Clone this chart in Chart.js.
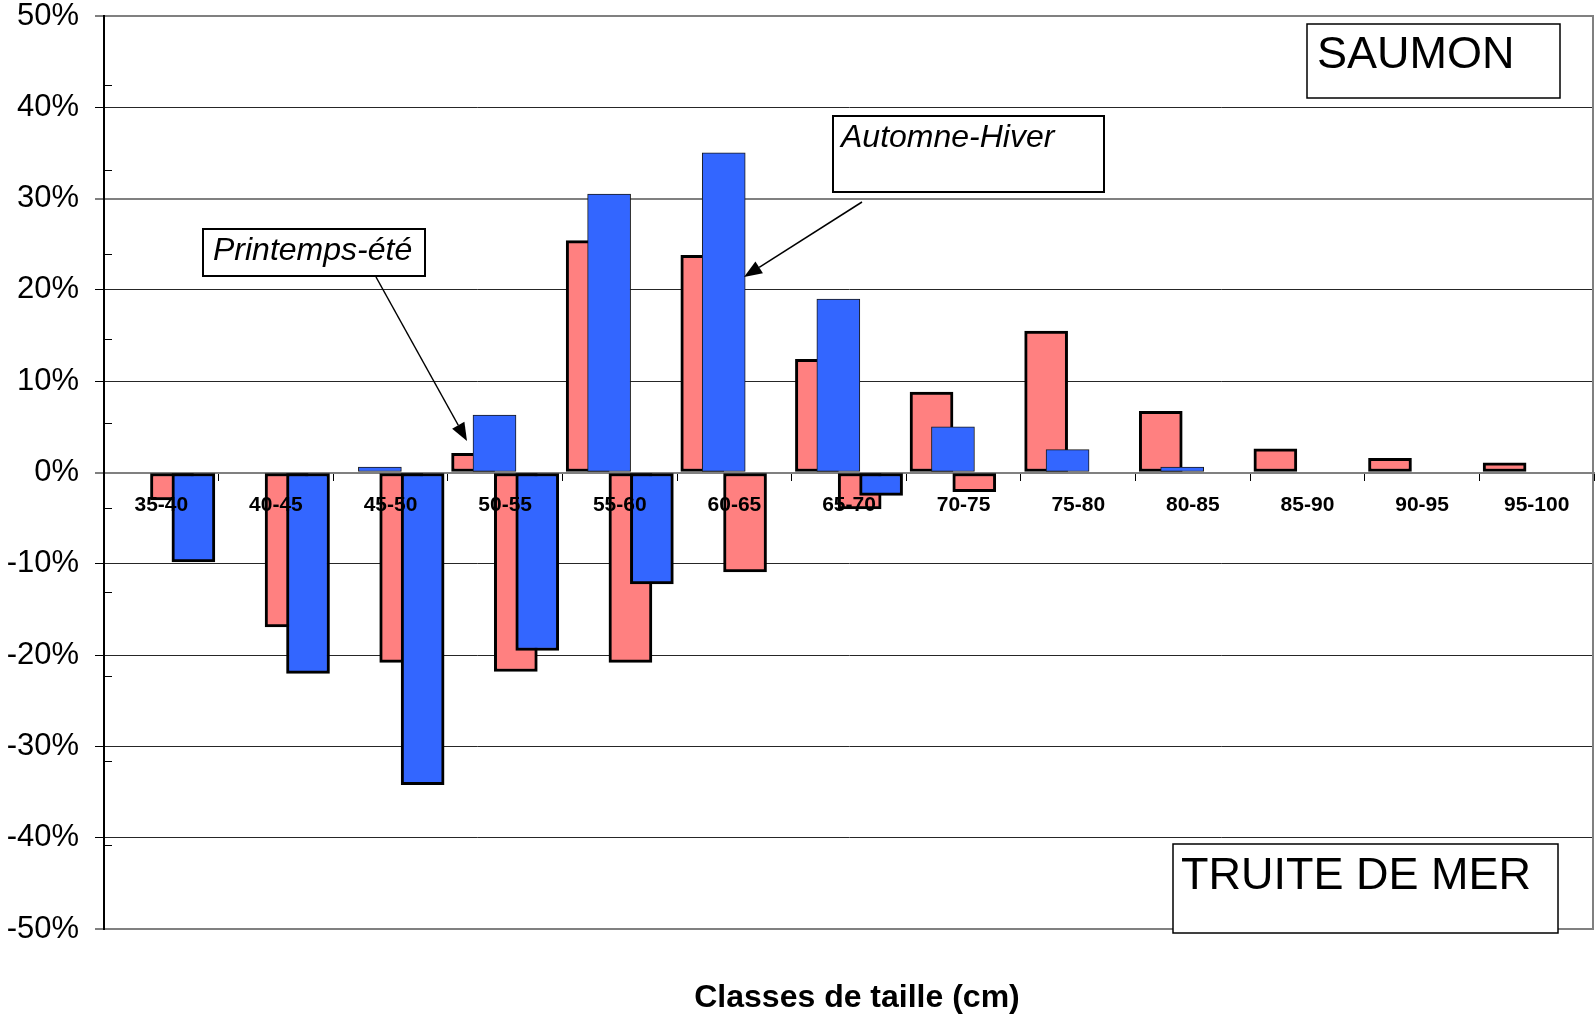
<!DOCTYPE html>
<html lang="fr">
<head>
  <meta charset="UTF-8">
  <title>Classes de taille - Saumon / Truite de mer</title>
  <script src="https://cdn.jsdelivr.net/npm/chart.js"></script>
  <style>
    body { margin: 0; background: #fff; }
    #wrap { width: 1596px; height: 1015px; position: relative; }
  </style>
</head>
<body>
<div id="wrap"><canvas id="tailleChart"></canvas></div>
<script>
// classes de taille (cm)
const classes = ['35-40', '40-45', '45-50', '50-55', '55-60', '60-65', '65-70',
                 '70-75', '75-80', '80-85', '85-90', '90-95', '95-100'];

// saumon (partie haute, en %)
const saumonPrintemps = [null, null, null, 2.1, 25.4, 23.8, 12.4, 8.8, 15.5, 6.7, 2.6, 1.55, 1.05];
const saumonAutomne   = [null, null, 0.6, 6.3, 30.5, 35.0, 19.0, 5.0, 2.5, 0.6, null, null, null];

// truite de mer (partie basse, en % négatif)
const truitePrintemps = [-3.0, -16.9, -20.8, -21.8, -20.8, -10.9, -4.0, -2.1, null, null, null, null, null];
const truiteAutomne   = [-9.8, -22.0, -34.2, -19.5, -12.2, null, -2.5, null, null, null, null, null, null];

const police = 'Arial, "Liberation Sans", sans-serif';

// les 4 barres d'une classe se chevauchent de moitié : on les place sur un axe linéaire caché
function points(vals, decalage) {
  const pts = [];
  vals.forEach((v, i) => { if (v !== null) pts.push({ x: i + decalage, y: v }); });
  return pts;
}

function barres(label, vals, decalage, couleur, bord, epaisseur, ordre) {
  return {
    label: label,
    data: points(vals, decalage),
    xAxisID: 'xb',
    grouped: false,
    barThickness: 43,
    backgroundColor: couleur,
    borderColor: bord,
    borderWidth: epaisseur,
    borderSkipped: false,
    order: ordre // plus petit = dessiné au-dessus
  };
}

// cadres de texte + flèches + titre de l'axe
function boite(ctx, x, y, w, h, lw) {
  ctx.fillStyle = '#fff';
  ctx.fillRect(x, y, w, h);
  ctx.lineWidth = lw;
  ctx.strokeStyle = '#000';
  ctx.strokeRect(x, y, w, h);
}

function fleche(ctx, x1, y1, x2, y2) {
  const a = Math.atan2(y2 - y1, x2 - x1);
  const L = 18, W = 7;
  const bx = x2 - L * Math.cos(a), by = y2 - L * Math.sin(a);
  ctx.strokeStyle = '#000';
  ctx.lineWidth = 1.5;
  ctx.beginPath();
  ctx.moveTo(x1, y1);
  ctx.lineTo(bx, by);
  ctx.stroke();
  ctx.fillStyle = '#000';
  ctx.beginPath();
  ctx.moveTo(x2, y2);
  ctx.lineTo(bx + W * Math.sin(a), by - W * Math.cos(a));
  ctx.lineTo(bx - W * Math.sin(a), by + W * Math.cos(a));
  ctx.closePath();
  ctx.fill();
}

const decor = {
  id: 'decor',
  afterDraw(chart) {
    const ctx = chart.ctx;
    const ca = chart.chartArea;
    ctx.save();

    // bord droit gris
    ctx.strokeStyle = '#808080';
    ctx.lineWidth = 2;
    ctx.beginPath();
    ctx.moveTo(ca.right - 1, ca.top);
    ctx.lineTo(ca.right - 1, ca.bottom);
    ctx.stroke();

    // petites graduations à droite de l'axe vertical
    ctx.strokeStyle = '#000';
    ctx.lineWidth = 1;
    const h = ca.bottom - ca.top;
    for (let k = 0; k < 10; k++) {
      const y = Math.round(ca.top + h * (0.0759 + 0.0925 * k)) + 0.5;
      ctx.beginPath();
      ctx.moveTo(ca.left, y);
      ctx.lineTo(ca.left + 8, y);
      ctx.stroke();
    }

    // cadres
    ctx.textAlign = 'left';
    ctx.textBaseline = 'alphabetic';
    boite(ctx, 1307, 24, 253, 74, 1.5);
    ctx.fillStyle = '#000';
    ctx.font = '45px ' + police;
    ctx.fillText('SAUMON', 1317, 68);

    boite(ctx, 1173, 844, 385, 89, 1.5);
    ctx.fillStyle = '#000';
    ctx.fillText('TRUITE DE MER', 1181, 889);

    boite(ctx, 203, 229, 222, 47, 2);
    ctx.fillStyle = '#000';
    ctx.font = 'italic 32px ' + police;
    ctx.fillText('Printemps-été', 213, 260);

    boite(ctx, 833, 116, 271, 76, 2);
    ctx.fillStyle = '#000';
    ctx.fillText('Automne-Hiver', 841, 147);

    fleche(ctx, 376, 277, 467, 441);
    fleche(ctx, 862, 202, 744, 277);

    // titre de l'axe horizontal
    ctx.textAlign = 'center';
    ctx.font = 'bold 32px ' + police;
    ctx.fillText('Classes de taille (cm)', 857, 1007);
    ctx.restore();
  }
};

const lignesGrises = [50, 30, 0, -50];

new Chart(document.getElementById('tailleChart'), {
  type: 'bar',
  data: {
    datasets: [
      barres('Saumon printemps-été', saumonPrintemps, -0.28, '#FF8080', '#000', 3, 4),
      barres('Saumon automne-hiver', saumonAutomne, -0.093, '#3366FF', '#1a1a1a', 1, 3),
      barres('Truite printemps-été', truitePrintemps, 0.093, '#FF8080', '#000', 3, 2),
      barres('Truite automne-hiver', truiteAutomne, 0.28, '#3366FF', '#000', 3, 1)
    ]
  },
  options: {
    responsive: true,
    maintainAspectRatio: false,
    animation: false,
    layout: { padding: { top: 16, right: 2, bottom: 86, left: 0 } },
    plugins: {
      legend: { display: false },
      tooltip: { enabled: false }
    },
    scales: {
      xb: {
        type: 'linear',
        axis: 'x',
        display: false,
        min: -0.5,
        max: 12.5,
        offset: false
      },
      x: {
        type: 'category',
        labels: classes,
        position: { y: 0 },
        offset: true,
        grid: {
          display: true,
          offset: true,
          drawOnChartArea: false,
          tickLength: 7,
          color: '#000',
          lineWidth: 1
        },
        border: { display: true, color: '#808080', width: 2 },
        ticks: {
          z: 1, // étiquettes par-dessus les barres
          color: '#000',
          font: { family: police, size: 21, weight: 'bold' },
          padding: 13,
          maxRotation: 0,
          autoSkip: false
        }
      },
      y: {
        position: 'left',
        min: -50,
        max: 50,
        ticks: {
          stepSize: 10,
          callback: v => v + '%',
          color: '#000',
          font: { family: police, size: 31, lineHeight: 1 },
          padding: 16
        },
        grid: {
          color: c => lignesGrises.includes(c.tick.value) ? '#808080' : '#262626',
          lineWidth: c => lignesGrises.includes(c.tick.value) ? 2 : 1,
          tickColor: '#000',
          tickWidth: 1,
          tickLength: 9
        },
        border: { color: '#000', width: 2 },
        afterFit(s) {
          s.width = 104;
          s.paddingTop = 0;    // le cadre commence à 16 px du haut
          s.paddingBottom = 0;
        }
      }
    }
  },
  plugins: [decor]
});
</script>
</body>
</html>
